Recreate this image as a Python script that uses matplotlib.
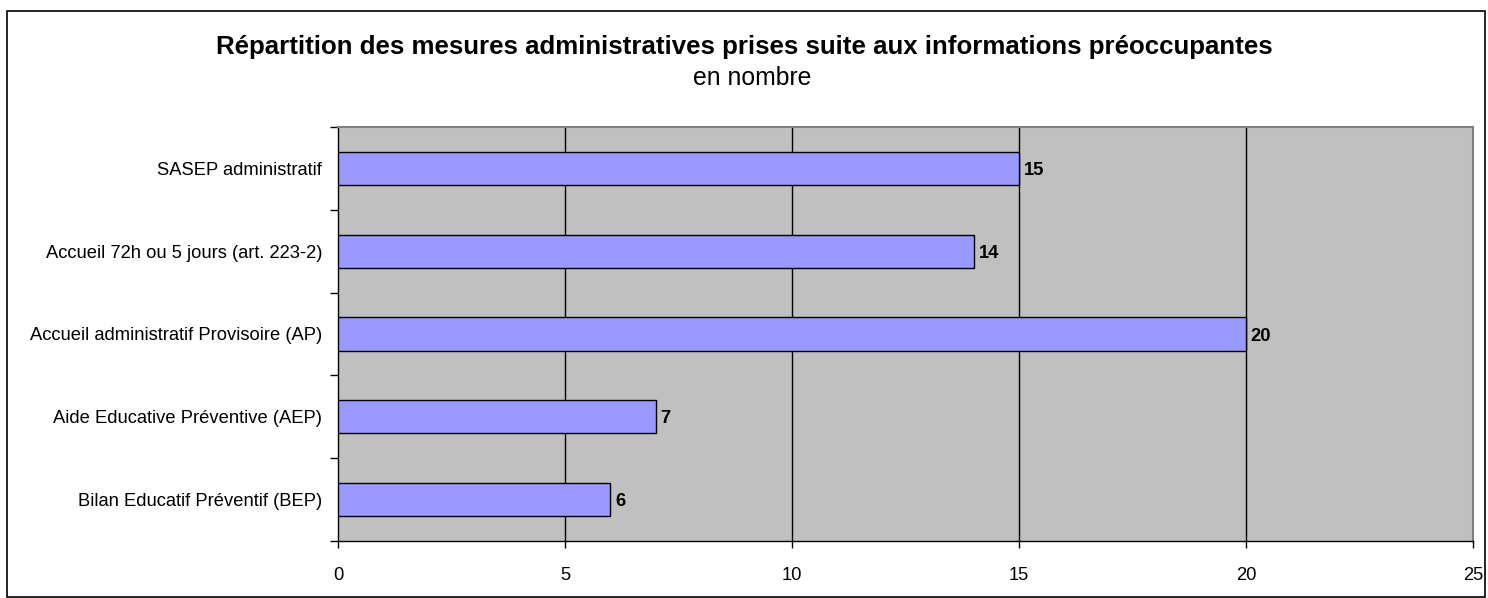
import matplotlib
matplotlib.use("Agg")
import matplotlib.pyplot as plt
from matplotlib.patches import Rectangle

plt.rcParams['font.family'] = ['Liberation Sans', 'DejaVu Sans']

categories = ["SASEP administratif",
              "Accueil 72h ou 5 jours (art. 223-2)",
              "Accueil administratif Provisoire (AP)",
              "Aide Educative Préventive (AEP)",
              "Bilan Educatif Préventif (BEP)"]
values = [15, 14, 20, 7, 6]
xticks = [0, 5, 10, 15, 20, 25]
title = "Répartition des mesures administratives prises suite aux informations préoccupantes"
subtitle = "en nombre"

W, H = 1488, 598
fig = plt.figure(figsize=(W/100, H/100), dpi=100)
fig.patch.set_facecolor('white')
fig.patches.append(Rectangle((7/W, 1 - 597/H), (1485-7)/W, (597-11)/H,
                             transform=fig.transFigure, fill=False,
                             edgecolor='black', linewidth=1.2))

left, right, top, bottom = 338, 1473, 127, 541
ax = fig.add_axes([left/W, 1 - bottom/H, (right-left)/W, (bottom-top)/H])
ax.set_facecolor('#C0C0C0')

fs = 13.2
n = len(categories)
ypos = list(range(n))
ax.barh(ypos, values, height=0.4, color='#9999FF', edgecolor='black', linewidth=1, zorder=3)
ax.set_ylim(n - 0.5, -0.5)
ax.set_xlim(0, 25)
ax.set_xticks(xticks)
ax.set_xticklabels([str(t) for t in xticks], fontsize=fs)
ax.set_yticks(ypos)
ax.set_yticklabels(categories, fontsize=fs)
ax.tick_params(axis='y', length=0, pad=11.5)
ax.set_yticks([i - 0.5 for i in range(n + 1)], minor=True)
ax.tick_params(axis='y', which='minor', length=6, width=1, color='black', direction='out')
ax.tick_params(axis='x', length=5, width=1, color='black', direction='out', pad=14)

for x in xticks[1:-1]:
    ax.axvline(x, color='black', linewidth=1, zorder=1)

for s in ['left', 'bottom']:
    ax.spines[s].set_color('black')
    ax.spines[s].set_linewidth(1)
for s in ['top', 'right']:
    ax.spines[s].set_color('#808080')
    ax.spines[s].set_linewidth(1.5)

for y, v in zip(ypos, values):
    ax.annotate(str(v), (v, y), xytext=(3.5, -1.5), textcoords='offset points',
                ha='left', va='center', fontsize=fs, fontweight='bold', zorder=4)

fig.text(744/W, 1 - 47/H, title, ha='center', va='center', fontsize=18.6, fontweight='bold')
fig.text(752/W, 1 - 78/H, subtitle, ha='center', va='center', fontsize=17.8)

fig.savefig('out.png', dpi=100, facecolor='white')
